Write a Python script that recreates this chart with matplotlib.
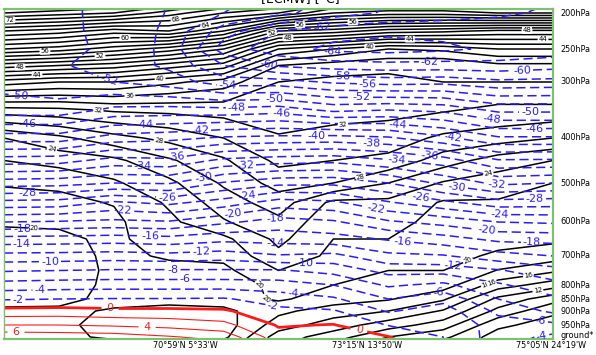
import numpy as np
import matplotlib
matplotlib.use("Agg")
import matplotlib.pyplot as plt

# ---------------- data ----------------
pressure_hpa = [195, 200, 225, 250, 275, 300, 350, 400, 450, 500, 550, 600,
                650, 700, 750, 800, 850, 900, 950, 1000, 1010]
distance = [0.0, 0.1, 0.2, 0.3, 0.4, 0.5, 0.6, 0.7, 0.8, 0.9, 1.0]

# temperature [degC] per column (top -> bottom)
temp_x00 = [-51.0, -51.0, -51.2, -51.2, -51.0, -50.6, -49.2, -43.0, -37.0, -31.0, -25.4, -20.0, -15.3, -11.3, -8.2, -5.2, -2.2, 0.7, 4.0, 7.4, 8.0]
temp_x01 = [-51.4, -51.4, -51.5, -51.5, -51.8, -51.2, -49.2, -43.0, -36.8, -30.8, -25.2, -19.8, -15.2, -11.2, -8.0, -5.0, -2.0, 0.8, 4.0, 7.2, 7.8]
temp_x02 = [-52.8, -52.8, -52.6, -52.4, -52.8, -52.0, -47.5, -41.1, -35.2, -30.0, -23.7, -19.5, -15.0, -11.0, -7.8, -4.9, -1.9, 0.5, 3.7, 7.0, 7.5]
temp_x03 = [-54.1, -54.1, -54.4, -54.6, -54.4, -53.0, -47.3, -40.6, -35.5, -30.2, -24.5, -19.8, -15.3, -11.3, -7.8, -4.9, -1.9, 0.5, 3.3, 6.2, 6.5]
temp_x04 = [-55.8, -56.0, -59.0, -61.0, -58.0, -55.0, -47.4, -39.7, -33.5, -27.8, -23.1, -18.4, -14.6, -10.9, -7.8, -4.9, -1.8, 0.3, 2.6, 5.3, 5.8]
temp_x05 = [-57.3, -57.5, -62.0, -63.2, -60.3, -55.1, -46.9, -39.4, -32.9, -26.6, -21.1, -17.1, -14.8, -11.8, -7.8, -5.1, -2.9, -1.5, -0.2, 0.8, 1.0]
temp_x06 = [-58.8, -59.0, -63.2, -64.5, -61.0, -56.3, -48.5, -39.2, -32.6, -26.5, -21.6, -17.7, -15.2, -11.4, -8.7, -6.0, -3.7, -1.8, 0.1, 1.2, 1.4]
temp_x07 = [-60.1, -60.3, -63.6, -64.8, -61.3, -56.8, -48.0, -39.7, -33.7, -28.0, -23.8, -19.7, -16.2, -13.5, -10.7, -8.3, -6.0, -4.2, -2.1, 0.1, 0.3]
temp_x08 = [-60.8, -61.0, -63.4, -64.4, -61.2, -56.6, -48.5, -41.5, -35.0, -30.5, -25.5, -20.7, -17.2, -13.8, -10.8, -7.5, -4.6, -3.0, -2.2, -2.0, -2.0]
temp_x09 = [-61.5, -61.7, -63.0, -63.6, -61.3, -57.5, -50.5, -43.7, -37.8, -32.5, -27.2, -22.0, -18.5, -15.2, -11.8, -9.7, -8.0, -6.5, -5.0, -5.0, -5.0]
temp_x10 = [-62.2, -62.3, -62.8, -63.2, -60.8, -57.3, -50.5, -43.7, -37.7, -32.0, -27.0, -22.3, -18.7, -16.0, -13.3, -11.3, -9.6, -8.4, -5.5, -3.5, -3.2]

# wind speed per column (top -> bottom)
wind_x00 = [78, 76, 66, 58, 49, 41, 31.2, 24.0, 22.0, 20.1, 19.6, 19.8, 20.5, 21.0, 21.0, 20.8, 20.4, 19.8, 19.6, 19.5, 19.5]
wind_x01 = [77, 75, 65, 57, 48, 40, 31.5, 25.5, 22.8, 20.3, 19.6, 19.7, 20.4, 20.8, 20.8, 20.6, 20.3, 19.8, 19.7, 19.6, 19.5]
wind_x02 = [76, 74, 63, 55, 47, 40, 32.3, 27.3, 23.5, 21.7, 20.1, 19.6, 19.6, 19.6, 19.7, 19.7, 19.7, 20.1, 20.5, 20.3, 20.0]
wind_x03 = [73, 71, 64, 53, 45, 38.5, 32.5, 28.6, 25.7, 23.5, 22.3, 21.5, 21.0, 20.2, 19.5, 19.3, 19.7, 20.3, 20.8, 20.5, 20.0]
wind_x04 = [70, 68, 60, 50, 43, 37, 32.8, 30.0, 27.7, 26.3, 25.0, 23.8, 21.5, 20.5, 19.5, 18.0, 19.0, 20.5, 21.0, 20.5, 20.0]
wind_x05 = [68, 66, 52, 42, 36, 34, 33.2, 31.8, 30.5, 28.8, 27.0, 25.5, 24.5, 23.5, 22.0, 21.0, 20.3, 18.5, 17.0, 15.0, 15.0]
wind_x06 = [64, 62, 51, 40, 35, 33.5, 32.8, 31.3, 30.0, 28.0, 23.5, 22.5, 22.0, 21.5, 20.5, 20.0, 19.0, 17.0, 15.0, 13.0, 12.5]
wind_x07 = [63, 61, 49, 38, 34.5, 33.5, 32.6, 31.0, 29.5, 26.0, 23.5, 22.5, 22.0, 21.5, 20.0, 19.0, 18.2, 16.0, 13.0, 10.0, 9.5]
wind_x08 = [63, 61, 48.5, 38.5, 34.2, 34, 32.2, 29.6, 27.0, 23.8, 21.8, 21.5, 21.2, 21.0, 20.0, 19.0, 16.3, 13.8, 11.0, 8.5, 8.0]
wind_x09 = [64, 62, 47.5, 40, 35.5, 34, 31.5, 29.0, 25.0, 23.0, 21.8, 21.5, 21.0, 19.5, 17.9, 15.0, 11.5, 9.4, 6.5, 5.0, 5.0]
wind_x10 = [64, 62, 47.5, 40, 35.5, 34, 31.5, 28.0, 24.0, 22.0, 21.7, 21.3, 20.4, 19.0, 16.4, 13.0, 8.8, 6.5, 5.0, 4.0, 4.0]

tick_pressures = [200, 250, 300, 400, 500, 600, 700, 800, 850, 900, 950, 1000]
tick_labels = ["200hPa", "250hPa", "300hPa", "400hPa", "500hPa", "600hPa",
               "700hPa", "800hPa", "850hPa", "900hPa", "950hPa", "ground*"]
place_positions = [0.331, 0.661, 0.996]
place_labels = ["70°59'N 5°33'W", "73°15'N 13°50'W", "75°05'N 24°19'W"]
title_text = "[ECMW] [°C]"

# vertical layout: pixel row of each pressure (from the axis labels)
axis_pressures = [195, 200, 250, 300, 400, 500, 600, 700, 800, 850, 900, 950, 1000, 1010]
axis_rows_px = [8.5, 13, 49, 82, 138, 183, 222, 256, 285, 299, 311, 325, 337, 339.5]

# label spots (pixel positions in the picture)
temp_label_px = [(268, 67), (108, 82), (20, 90), (228, 87), (274, 100), (237, 110), (282, 115),
                 (322, 28), (333, 50), (430, 64), (522, 72), (342, 76), (368, 83), (362, 97),
                 (492, 119), (530, 115), (28, 128), (145, 128), (200, 131), (398, 124),
                 (317, 136), (372, 144), (453, 138), (535, 130), (176, 158), (143, 169),
                 (245, 166), (397, 162), (430, 157), (204, 178), (457, 188), (497, 185),
                 (28, 195), (167, 197), (535, 200), (420, 200), (247, 196), (123, 215),
                 (233, 214), (275, 219), (375, 213), (500, 214), (487, 230), (22, 230),
                 (150, 237), (22, 246), (276, 246), (532, 243), (403, 243), (201, 251),
                 (50, 262), (305, 260), (453, 264), (173, 270), (185, 280), (40, 291),
                 (293, 291), (438, 291), (18, 303), (273, 305), (541, 317), (541, 331)]
zero_label_px = [(110, 310), (360, 325)]
warm_label_px = [(147, 330), (16, 332)]
wind_label_px = [(10, 20), (176, 19), (205, 22), (125, 38), (45, 52), (100, 55), (20, 68),
                 (37, 75), (160, 77), (130, 96), (98, 112), (300, 23), (272, 33), (288, 39),
                 (353, 25), (410, 42), (370, 52), (527, 31), (543, 38), (343, 125),
                 (159, 141), (52, 148), (362, 183), (487, 167), (33, 245), (265, 275),
                 (255, 310), (462, 245), (482, 273), (490, 288), (537, 285), (528, 272)]

W, H = 596, 355
AX_L, AX_R, AX_T, AX_B = 4, 553, 9, 339


def p_to_y(p):
    return -np.interp(np.asarray(p, dtype=float), axis_pressures, axis_rows_px)


def px_to_data(pts):
    return [((px - AX_L) / (AX_R - AX_L), -py) for px, py in pts]


temp = np.column_stack([temp_x00, temp_x01, temp_x02, temp_x03, temp_x04, temp_x05,
                        temp_x06, temp_x07, temp_x08, temp_x09, temp_x10])
wind = np.column_stack([wind_x00, wind_x01, wind_x02, wind_x03, wind_x04, wind_x05,
                        wind_x06, wind_x07, wind_x08, wind_x09, wind_x10])
X, Y = np.meshgrid(distance, p_to_y(pressure_hpa))

fig = plt.figure(figsize=(W / 100, H / 100), dpi=100)
ax = fig.add_axes([AX_L / W, (H - AX_B) / H, (AX_R - AX_L) / W, (AX_B - AX_T) / H])
ax.set_xlim(0, 1)
ax.set_ylim(-AX_B, -AX_T)

fmt = lambda v: f"{v:.0f}"

# wind speed (black): lines every 2, labels on multiples of 4
wl_plain = np.arange(2, 92, 4)
wl_label = np.arange(4, 92, 4)
ax.contour(X, Y, wind, levels=wl_plain, colors="black", linewidths=1.1)
cw = ax.contour(X, Y, wind, levels=wl_label, colors="black", linewidths=1.1)
wt = ax.clabel(cw, fontsize=5, fmt=fmt, inline=True, inline_spacing=1,
               manual=px_to_data(wind_label_px))
for t in wt:
    t.set_bbox(dict(facecolor="white", edgecolor="none", pad=0.3))

# temperature below zero (blue dashed)
blue = "#2a1bff"
tl = np.arange(-70, -1, 2)
ct = ax.contour(X, Y, temp, levels=tl, colors=blue, linewidths=1.1,
                linestyles=[(0, (6, 3))])
ax.clabel(ct, fontsize=8, fmt=fmt, inline=True, inline_spacing=2, colors=blue,
          manual=px_to_data(temp_label_px))

# temperature zero and above (red)
red = "#ff1a1a"
cz = ax.contour(X, Y, temp, levels=[0], colors=red, linewidths=2.0)
ax.contour(X, Y, temp, levels=[2, 8], colors=red, linewidths=0.8)
cp = ax.contour(X, Y, temp, levels=[4, 6], colors=red, linewidths=0.8)
ax.clabel(cz, fontsize=8, fmt=fmt, inline=True, colors=red,
          manual=px_to_data(zero_label_px))
ax.clabel(cp, fontsize=8, fmt=fmt, inline=True, colors=red,
          manual=px_to_data(warm_label_px))

ax.set_xticks([])
ax.set_yticks([])
for s in ax.spines.values():
    s.set_color("#7cc070")
    s.set_linewidth(1.6)
ax.spines["left"].set_linewidth(1.0)

for p, lab in zip(tick_pressures, tick_labels):
    yy = p_to_y(p) + (1 if lab == "ground*" else 0)
    ax.text(1.013, yy, lab, transform=ax.get_yaxis_transform(),
            ha="left", va="center", fontsize=5.9, clip_on=False)

for xp, lab in zip(place_positions, place_labels):
    ax.text(xp, -0.006, lab, transform=ax.transAxes, ha="center", va="top",
            fontsize=5.9, clip_on=False)

fig.text(300 / W, (H - 5) / H, title_text, ha="center", va="bottom", fontsize=9)

fig.savefig("out.png", dpi=100)
